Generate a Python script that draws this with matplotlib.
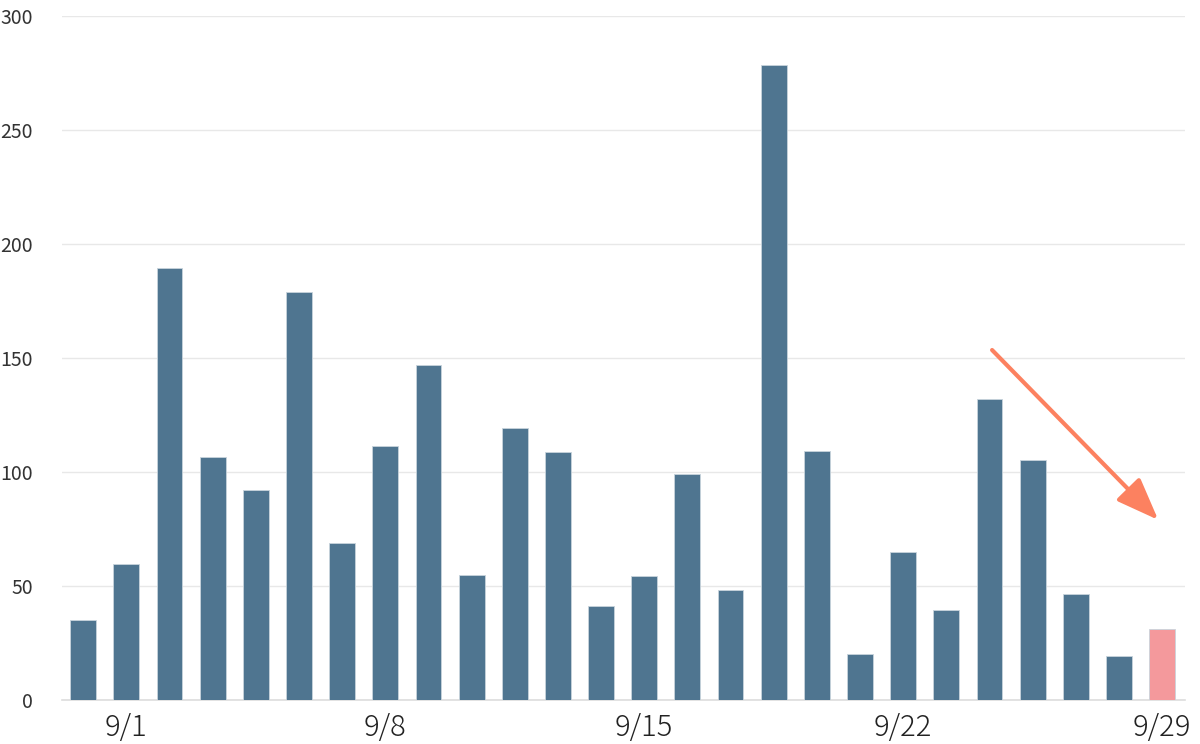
import matplotlib.pyplot as plt

plt.rcParams['font.family'] = ['Noto Sans CJK JP', 'DejaVu Sans']

# daily counts, one bar per day (label shown weekly)
values = [35, 59.5, 189.5, 106.5, 92, 179, 69, 111.5, 147, 55, 119.3, 108.8, 41.2,
          54.4, 99.1, 48.2, 278.5, 109.2, 20.2, 64.9, 39.5, 132, 105.3, 46.5, 19.3, 31.1]
tick_pos = [1, 7, 13, 19, 25]
tick_labels = ['9/1', '9/8', '9/15', '9/22', '9/29']
highlight = 25

bar_color = '#4f7590'
pink = '#f4999c'
colors = [pink if i == highlight else bar_color for i in range(len(values))]

fig = plt.figure(figsize=(12, 7.44), dpi=100)
ax = fig.add_axes([0.0517, 0.0591, 0.9358, 0.9194])

ax.bar(range(len(values)), values, width=0.6, color=colors,
       edgecolor='#c8d4dc', linewidth=0.6, zorder=3)

ax.set_ylim(0, 300)
ax.set_xlim(-0.49, 25.53)
ax.set_yticks([0, 50, 100, 150, 200, 250, 300])
ax.yaxis.grid(True, color='#e8e8e8', linewidth=1, zorder=0)
ax.set_xticks(tick_pos)
ax.set_xticklabels(tick_labels, fontsize=21, color='#222222', fontweight='light')
ax.tick_params(axis='y', labelsize=14, colors='#333333', length=0, pad=21)
ax.tick_params(axis='x', length=0, pad=9)
for s in ['top', 'right', 'left']:
    ax.spines[s].set_visible(False)
ax.spines['bottom'].set_color('#dddddd')
ax.spines['bottom'].set_linewidth(1.2)

# downward trend arrow
ax.annotate('', xy=(24.91, 79), xytext=(21.06, 153.5),
            arrowprops=dict(arrowstyle='-|>,head_length=2.6,head_width=1.0',
                            color='#fc8160', lw=3, shrinkA=0, shrinkB=0),
            zorder=5)

fig.savefig('out.png', dpi=100)
